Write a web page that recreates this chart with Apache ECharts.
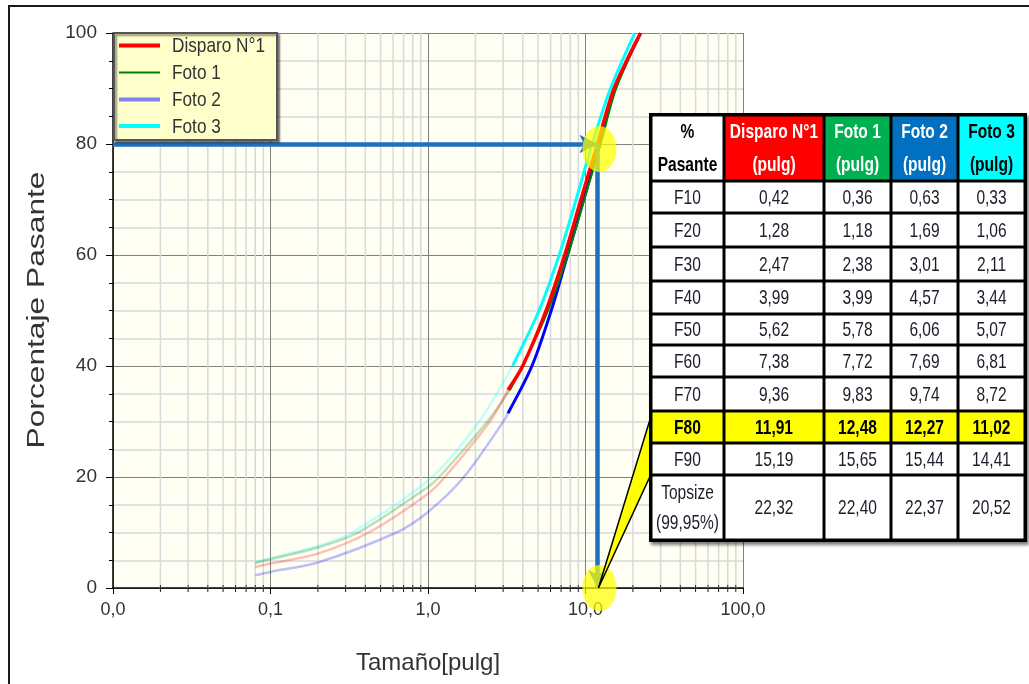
<!DOCTYPE html>
<html>
<head>
<meta charset="utf-8">
<script src="https://cdn.jsdelivr.net/npm/echarts@6/dist/echarts.min.js"></script>
<style>
html,body{margin:0;padding:0;background:#ffffff;}
#c{width:1029px;height:684px;}
</style>
</head>
<body>
<div id="c"></div>
<script>
// ---------- DATA ----------
const seriesNames = ['Disparo N°1', 'Foto 1', 'Foto 2', 'Foto 3'];
const disparo = [[0.08,3.8],[0.1,4.4],[0.2,6.2],[0.42,10],[1.0,17],[1.28,20],[2.47,30],[3.22,35.7],[3.99,40],[5.62,50],[7.38,60],[9.36,70],[11.91,80],[15.19,90],[22.32,99.95]];
const foto1   = [[0.08,4.5],[0.1,5.2],[0.2,7.3],[0.36,10],[1.0,18.2],[1.18,20],[2.38,30],[3.3,35.6],[3.99,40],[5.78,50],[7.72,60],[9.83,70],[12.48,80],[15.65,90],[22.40,99.95]];
const foto2   = [[0.08,2.3],[0.1,2.9],[0.2,4.6],[0.63,10],[1.0,13.7],[1.69,20],[3.01,30],[3.22,31.5],[4.57,40],[6.06,50],[7.69,60],[9.74,70],[12.27,80],[15.44,90],[22.37,99.95]];
const foto3   = [[0.08,4.7],[0.1,5.4],[0.2,7.6],[0.33,10],[1.06,20],[2.11,30],[3.44,40],[5.07,50],[6.81,60],[8.72,70],[11.02,80],[14.41,90],[20.52,99.95]];
const splitX  = [3.22, 3.3, 3.22, 3.44];   // faded part ends / bold part starts
const f80Point = [11.91, 80];

const xTickValues = [0.01, 0.1, 1, 10, 100];
const xTickLabels = ['0,0', '0,1', '1,0', '10,0', '100,0'];

const tableHeader = ['%\nPasante', 'Disparo N°1\n(pulg)', 'Foto 1\n(pulg)', 'Foto 2\n(pulg)', 'Foto 3\n(pulg)'];
const tableRowLabels = ['F10','F20','F30','F40','F50','F60','F70','F80','F90','Topsize\n(99,95%)'];
const tableDisparo = ['0,42','1,28','2,47','3,99','5,62','7,38','9,36','11,91','15,19','22,32'];
const tableFoto1   = ['0,36','1,18','2,38','3,99','5,78','7,72','9,83','12,48','15,65','22,40'];
const tableFoto2   = ['0,63','1,69','3,01','4,57','6,06','7,69','9,74','12,27','15,44','22,37'];
const tableFoto3   = ['0,33','1,06','2,11','3,44','5,07','6,81','8,72','11,02','14,41','20,52'];
const highlightRow = 'F80';

// ---------- STYLE ----------
const SANS = '"Liberation Sans", Arial, sans-serif';
const colors = ['#ff0000', '#008000', '#0000ff', '#00ffff'];
const widths = [3.5, 2, 3, 3];
const legendColors = ['#ff0000', '#008000', '#8080ee', '#00ffff'];
const legendWidths = [4, 2, 4, 4];
const allData = [disparo, foto1, foto2, foto3];

const chart = echarts.init(document.getElementById('c'), null, {renderer: 'canvas'});

const xMinorValues = [];
for (let e = -2; e < 2; e++) for (let m = 2; m <= 9; m++) xMinorValues.push(+(m * Math.pow(10, e)).toPrecision(3));

function xLabel(v) {
  for (let i = 0; i < xTickValues.length; i++) {
    if (Math.abs(Math.log10(v) - Math.log10(xTickValues[i])) < 1e-6) return xTickLabels[i];
  }
  return '';
}

const series = [];
// minor vertical grid lines + minor ticks on the log axis
series.push({
  type: 'custom', silent: true, z: 1, data: [[1, 50]],
  renderItem: function (params, api) {
    const children = [];
    xMinorValues.forEach(function (v) {
      const t = api.coord([v, 100]), b = api.coord([v, 0]);
      children.push({type: 'line', shape: {x1: t[0], y1: t[1], x2: b[0], y2: b[1]}, style: {stroke: '#d9d9d9', lineWidth: 1.5}});
      children.push({type: 'line', shape: {x1: b[0], y1: b[1] - 3, x2: b[0], y2: b[1] + 4}, style: {stroke: '#222', lineWidth: 1}});
    });
    return {type: 'group', children: children};
  }
});

[3, 2, 1, 0].forEach(function (i) {
  const d = allData[i];
  const faded = d.filter(p => p[0] <= splitX[i]);
  const solid = d.filter(p => p[0] >= splitX[i]);
  const f = {
    name: seriesNames[i] + ' (extrapolado)', type: 'line', data: faded, showSymbol: false, symbol: 'none',
    smooth: 0.3, z: 3, silent: true,
    lineStyle: {color: colors[i], width: 2.5, opacity: 0.25}
  };
  if (i === 3) {
    // yellow highlight circles at the F80 reading (drawn below the arrows)
    f.markPoint = {
      silent: true, symbol: 'circle', symbolSize: [34, 46], label: {show: false},
      itemStyle: {color: 'rgba(255,255,0,0.72)'},
      data: [
        {coord: [f80Point[0], f80Point[1]], symbolOffset: [2, 5]},
        {coord: [f80Point[0], 0], symbolOffset: [2, 0]}
      ]
    };
  }
  series.push(f);
  const s = {
    name: seriesNames[i], type: 'line', data: solid, showSymbol: false, symbol: 'none',
    smooth: 0.3, z: 4, silent: true,
    lineStyle: {color: colors[i], width: widths[i]}
  };
  if (i === 0) {
    s.markLine = {
      silent: true, symbol: ['none', 'arrow'], symbolSize: [14, 18],
      label: {show: false},
      lineStyle: {color: '#1f6fc0', width: 4.5, type: 'solid', opacity: 1},
      data: [
        [{coord: [0.01, f80Point[1]]}, {coord: [f80Point[0], f80Point[1]]}],
        [{coord: [f80Point[0], f80Point[1]]}, {coord: [f80Point[0], 0]}]
      ]
    };
  }
  series.push(s);
});

chart.setOption({
  animation: false,
  backgroundColor: '#ffffff',
  grid: {left: 113, right: 286, top: 33, bottom: 96, show: true, backgroundColor: '#fffff4', borderWidth: 0},
  xAxis: {
    type: 'log', logBase: 10, min: 0.01, max: 100,
    name: 'Tamaño[pulg]', nameLocation: 'middle', nameGap: 63,
    nameTextStyle: {fontFamily: SANS, fontSize: 24, color: '#333'},
    axisLine: {show: true, onZero: false, lineStyle: {color: '#000', width: 1.5}},
    axisTick: {show: true, length: 6, lineStyle: {color: '#000'}},
    axisLabel: {formatter: xLabel, fontFamily: SANS, fontSize: 18, color: '#333', margin: 13},
    splitLine: {show: true, lineStyle: {color: '#808080', width: 1}}
  },
  yAxis: {
    type: 'value', min: 0, max: 100, interval: 20,
    axisLine: {show: true, lineStyle: {color: '#000', width: 1.5}},
    axisTick: {show: true, length: 7, lineStyle: {color: '#000'}},
    minorTick: {show: true, splitNumber: 4, length: 4, lineStyle: {color: '#000'}},
    axisLabel: {fontFamily: SANS, fontSize: 19, color: '#333', margin: 16},
    splitLine: {show: true, lineStyle: {color: '#808080', width: 1}},
    minorSplitLine: {show: true, lineStyle: {color: '#d9d9d9', width: 1.5}}
  },
  series: series
});

// ---------- ANNOTATIONS (legend, table, callout) ----------
const g = [];
function txt(x, y, text, font, fill, align, z, lh, sx) {
  return {type: 'text', z: z, silent: true, x: x, y: y, scaleX: sx,
    style: {text: text, font: font, fill: fill, align: align, verticalAlign: 'middle', lineHeight: lh || 24}};
}
// outer frame
g.push({type: 'rect', z: 200, silent: true, shape: {x: 9, y: 6, width: 1100, height: 1000}, style: {fill: 'none', stroke: '#1a1a1a', lineWidth: 2}});
// y axis title (stretched like the original)
g.push({type: 'text', z: 200, silent: true, x: 38, y: 310, rotation: Math.PI / 2, scaleX: 1.38,
  style: {text: 'Porcentaje Pasante', font: '23px ' + SANS, fill: '#333', align: 'center', verticalAlign: 'middle'}});

// legend
g.push({type: 'rect', z: 150, silent: true, shape: {x: 114, y: 33, width: 163, height: 107},
  style: {fill: '#ffffcc', stroke: '#555', lineWidth: 2, shadowBlur: 2, shadowOffsetX: 2, shadowOffsetY: 2, shadowColor: 'rgba(0,0,0,0.45)'}});
const legY = [45.5, 72.5, 99.5, 126];
seriesNames.forEach(function (n, i) {
  g.push({type: 'line', z: 151, silent: true, shape: {x1: 119, y1: legY[i], x2: 160, y2: legY[i]}, style: {stroke: legendColors[i], lineWidth: legendWidths[i]}});
  g.push(txt(172, legY[i] + 1, n, '21px ' + SANS, '#333', 'left', 151, 24, 0.82));
});

// callout wedge from the F80 row to the bottom circle
const tip = chart.convertToPixel({xAxisIndex: 0, yAxisIndex: 0}, [f80Point[0], 0]);
g.push({type: 'polygon', z: 180, silent: true, shape: {points: [[652, 413], [652, 472], [tip[0] + 1, tip[1]]]},
  style: {fill: '#ffff00', stroke: '#000', lineWidth: 1.5}});

// table
const colX = [651, 724, 824, 891, 958, 1025];
const rowY = [115, 181, 213, 247, 281, 314, 345, 377, 411, 443, 475, 540];
const headFill = ['#ffffff', '#ff0000', '#00b050', '#0070c0', '#00ffff'];
const headText = ['#000000', '#ffffff', '#ffffff', '#ffffff', '#000000'];
const cols = [tableRowLabels, tableDisparo, tableFoto1, tableFoto2, tableFoto3];
g.push({type: 'rect', z: 190, silent: true, shape: {x: 649, y: 113, width: 378, height: 429},
  style: {fill: '#000', shadowBlur: 3, shadowOffsetX: 2, shadowOffsetY: 3, shadowColor: 'rgba(0,0,0,0.5)'}});
for (let r = 0; r < rowY.length - 1; r++) {
  for (let c = 0; c < colX.length - 1; c++) {
    const x0 = colX[c], x1 = colX[c + 1], y0 = rowY[r], y1 = rowY[r + 1];
    let fill = '#ffffff', t, color = '#1c1c2a', bold = false, lh = 30;
    if (r === 0) { fill = headFill[c]; t = tableHeader[c]; color = headText[c]; bold = true; lh = 33; }
    else {
      t = cols[c][r - 1];
      if (tableRowLabels[r - 1] === highlightRow) { fill = '#ffff00'; bold = true; color = '#000'; }
    }
    g.push({type: 'rect', z: 191, silent: true, shape: {x: x0 + 1.5, y: y0 + 1.5, width: x1 - x0 - 3, height: y1 - y0 - 3}, style: {fill: fill}});
    g.push(txt((x0 + x1) / 2, (y0 + y1) / 2 + 1, t, (bold ? 'bold ' : '') + '21px ' + SANS, color, 'center', 192, lh, bold ? 0.74 : 0.74));
  }
}
chart.setOption({graphic: {elements: g}});
</script>
</body>
</html>
